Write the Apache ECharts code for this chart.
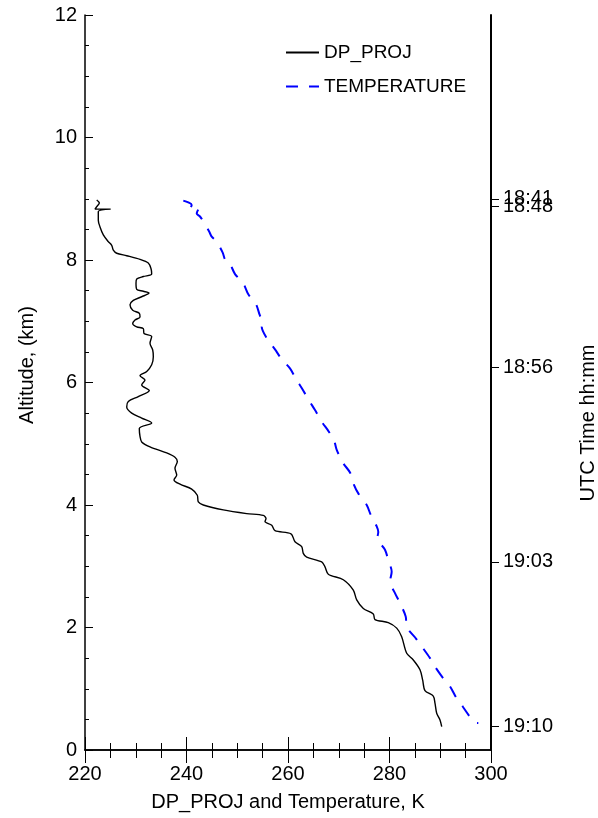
<!DOCTYPE html>
<html>
<head>
<meta charset="utf-8">
<script src="https://cdn.jsdelivr.net/npm/echarts@6/dist/echarts.min.js"></script>
<style>html,body{margin:0;padding:0;background:#fff}#c{width:598px;height:818px}</style>
</head>
<body>
<div id="c"></div>
<script>
// DP_PROJ (K) vs altitude (km)
const dpK = [222.31,222.82,222.31,221.97,225.06,222.62,222.62,222.96,223.61,224.59,225.26,225.58,226.25,228.22,230.84,232.47,233.00,233.14,231.49,230.19,230.05,230.19,231.49,232.61,231.17,229.52,228.87,229.40,230.70,230.84,229.85,229.40,230.19,231.49,231.63,233.14,232.81,233.34,233.46,233.14,232.16,230.84,231.82,231.17,232.67,230.50,228.53,228.22,229.20,231.17,233.14,230.70,230.84,231.17,232.81,236.10,237.73,238.19,237.73,238.07,237.54,238.72,241.02,242.13,242.33,243.31,247.25,251.86,255.13,255.67,255.47,256.79,257.44,260.59,261.38,262.70,263.01,263.68,266.64,267.29,267.94,270.90,272.87,273.54,274.84,276.81,277.14,279.76,281.42,282.40,283.39,284.69,286.01,286.54,286.99,288.63,288.97,289.30,289.95,290.29];
const dpAlt = [8.98,8.93,8.87,8.83,8.83,8.79,8.65,8.54,8.41,8.30,8.24,8.16,8.11,8.07,8.01,7.95,7.86,7.77,7.73,7.69,7.62,7.52,7.49,7.46,7.40,7.34,7.27,7.18,7.13,7.07,7.02,6.96,6.91,6.88,6.80,6.75,6.64,6.53,6.42,6.29,6.18,6.11,6.04,5.96,5.87,5.77,5.69,5.60,5.50,5.42,5.34,5.25,5.12,5.03,4.95,4.85,4.78,4.71,4.60,4.49,4.41,4.34,4.26,4.16,4.05,4.00,3.92,3.86,3.83,3.78,3.73,3.67,3.58,3.53,3.40,3.32,3.21,3.15,3.07,2.99,2.87,2.78,2.61,2.45,2.31,2.22,2.13,2.08,1.99,1.85,1.58,1.47,1.31,1.14,0.97,0.88,0.76,0.60,0.49,0.38];
// Temperature (K) vs altitude (km)
const tempK = [239.37,240.35,241.02,240.69,242.33,242.01,242.66,243.31,244.49,244.97,245.95,247.13,247.59,248.43,249.56,251.19,252.18,253.69,254.48,255.13,254.82,255.92,257.44,258.76,260.39,261.64,262.70,264.20,265.32,266.64,267.94,269.06,269.60,270.90,272.22,273.00,273.85,275.51,276.30,277.48,277.79,277.60,279.11,279.76,280.43,280.10,281.08,282.07,283.19,283.39,285.22,286.35,287.98,288.97,290.60,291.92,293.24,294.42,295.86,296.85,297.50];
const tempAlt = [8.97,8.94,8.90,8.83,8.83,8.76,8.71,8.63,8.46,8.38,8.30,8.12,8.01,7.96,7.77,7.62,7.44,7.28,7.09,6.99,6.91,6.71,6.54,6.38,6.23,6.05,5.91,5.70,5.55,5.36,5.21,5.06,4.90,4.68,4.53,4.33,4.19,4.00,3.84,3.65,3.56,3.46,3.27,3.10,2.91,2.75,2.56,2.40,2.18,2.01,1.82,1.69,1.50,1.36,1.17,1.04,0.84,0.71,0.54,0.45,0.44];
// right-axis time labels and the altitudes where they sit
const timeLabels = ['18:41','18:48','18:56','19:03','19:10'];
const timeAlt = [9.00,8.87,6.25,3.07,0.38];

const FONT = 'Liberation Sans';
const dpData = dpK.map((k,i)=>[k,dpAlt[i]]);
const tData = tempK.map((k,i)=>[k,tempAlt[i]]);

function timeFmt(v){let bi=0,bd=1e9;timeAlt.forEach((a,i)=>{const d=Math.abs(a-v);if(d<bd){bd=d;bi=i;}});return timeLabels[bi];}
function rightAxis(vals, showLine){
  return {
    type:'value', min:0, max:12, position:'right', offset:0,
    axisLine:{show:showLine, lineStyle:{color:'#000', width:2}},
    axisTick:{show:true, inside:false, length:8, customValues:vals, lineStyle:{color:'#000'}},
    axisLabel:{fontFamily:FONT, fontSize:20, color:'#000', margin:12, customValues:vals, hideOverlap:false, formatter:timeFmt},
    splitLine:{show:false}
  };
}

const chart = echarts.init(document.getElementById('c'), null, {renderer:'canvas'});
const axLine = {show:true, lineStyle:{color:'#000', width:1.5}};
chart.setOption({
  animation:false,
  backgroundColor:'#fff',
  textStyle:{fontFamily:FONT},
  grid:{left:85, right:107, top:15, bottom:68, containLabel:false},
  legend:{
    orient:'vertical', left:280, top:38, itemWidth:33, itemHeight:14, itemGap:15,
    itemStyle:{opacity:0, borderWidth:0},
    textStyle:{fontFamily:FONT, fontSize:19, color:'#000'},
    data:['DP_PROJ','TEMPERATURE']
  },
  xAxis:[{
    type:'value', min:220, max:300, interval:20, position:'bottom',
    axisLine:axLine,
    axisTick:{show:true, inside:true, length:13, lineStyle:{color:'#000'}},
    minorTick:{show:true, splitNumber:4, length:7, lineStyle:{color:'#000'}},
    axisLabel:{fontFamily:FONT, fontSize:20, color:'#000', margin:14},
    splitLine:{show:false}
  },{
    type:'value', min:220, max:300, interval:20, position:'top',
    axisLine:axLine,
    axisTick:{show:true, inside:true, length:13, lineStyle:{color:'#000'}},
    minorTick:{show:true, splitNumber:4, length:8, lineStyle:{color:'#000'}},
    axisLabel:{show:false}, splitLine:{show:false}
  }],
  yAxis:[{
    type:'value', min:0, max:12, interval:2, position:'left',
    axisLine:axLine,
    axisTick:{show:true, inside:true, length:8, lineStyle:{color:'#000'}},
    minorTick:{show:true, splitNumber:4, length:4, lineStyle:{color:'#000'}},
    axisLabel:{fontFamily:FONT, fontSize:20, color:'#000', margin:8},
    splitLine:{show:false}
  },
  rightAxis(timeAlt.slice(1), true),
  rightAxis(timeAlt.slice(0,1), false)
  ],
  graphic:[
    {type:'text', x:27, y:365, rotation:Math.PI/2, style:{text:'Altitude, (km)', font:'20px "Liberation Sans"', fill:'#000', textAlign:'center', textVerticalAlign:'middle'}},
    {type:'text', x:588, y:423, rotation:Math.PI/2, style:{text:'UTC Time hh:mm', font:'20px "Liberation Sans"', fill:'#000', textAlign:'center', textVerticalAlign:'middle'}},
    {type:'text', x:288, y:802, style:{text:'DP_PROJ and Temperature, K', font:'20px "Liberation Sans"', fill:'#000', textAlign:'center', textVerticalAlign:'middle'}}
  ],
  series:[{
    name:'DP_PROJ', type:'line', data:dpData, symbol:'none', smooth:0.3,
    lineStyle:{color:'#000', width:1.4}, itemStyle:{color:'#000'}
  },{
    name:'TEMPERATURE', type:'line', data:tData, symbol:'none', smooth:0.3,
    lineStyle:{color:'#0000ff', width:2, type:[12,11]}, itemStyle:{color:'#0000ff'}
  }]
});
</script>
</body>
</html>
